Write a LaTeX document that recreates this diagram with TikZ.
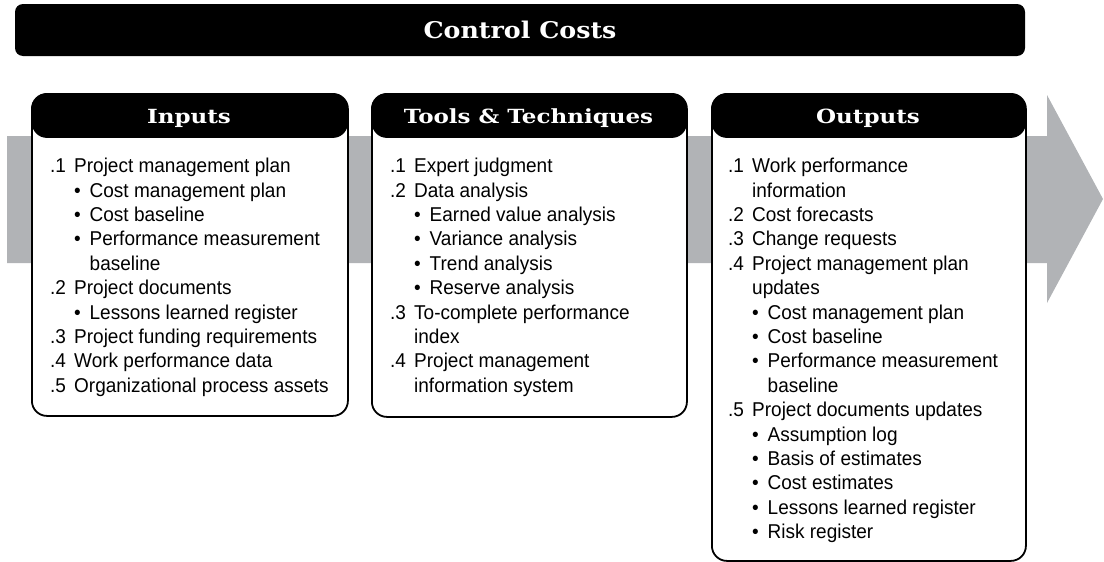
\documentclass[tikz,border=0pt]{standalone}
\usepackage{fontspec}
\setmainfont[FakeStretch=0.95]{Liberation Sans}
\newfontfamily\slabfont[FakeStretch=1.1]{DejaVu Serif}
\newfontfamily\slabwide[FakeStretch=1.18]{DejaVu Serif}
\definecolor{bandgray}{HTML}{B1B3B6}
\newcommand\nm[1]{\makebox[24pt][l]{#1}}
\newcommand\bl{\hspace*{24pt}\makebox[15.5pt][l]{\textbullet}}
\newcommand\ct{\hspace*{24pt}}
\newcommand\bct{\hspace*{39.5pt}}
\tikzset{
  panel/.style={draw=black, line width=1.8pt, fill=white, rounded corners=15pt,
    anchor=north west, inner sep=0pt,
    path picture={\fill[black] (path picture bounding box.north west) rectangle
      ([yshift=-44pt]path picture bounding box.north east);}},
  headtext/.style={text=white, font=\slabwide\bfseries\fontsize{19.5}{22}\selectfont,
    anchor=base, inner sep=0pt},
  titlebar/.style={fill=black, rounded corners=8pt, text=white, inner sep=0pt,
    font=\slabfont\bfseries\fontsize{23}{26}\selectfont},
  listtext/.style={anchor=north west, inner sep=0pt, align=left,
    font=\fontsize{20}{24.4}\selectfont}
}
\begin{document}
\begin{tikzpicture}[x=1pt,y=-1pt]
\useasboundingbox (0,0) rectangle (1104,562);
% big gray arrow
\fill[bandgray] (7,136) -- (1047,136) -- (1047,95) -- (1103,199) -- (1047,303)
  -- (1047,263) -- (7,263) -- cycle;
% title bar
\node[titlebar, minimum width=1010pt, minimum height=52pt] (title) at (520,30) {Control Costs};
% panels
\node[panel, minimum width=316pt, minimum height=322pt] (inbox) at (31,93) {};
\node[panel, minimum width=315pt, minimum height=323pt] (toolbox) at (371,93) {};
\node[panel, minimum width=314pt, minimum height=467pt] (outbox) at (711,93) {};
% headers
\node[headtext] (inhead) at (189,123) {Inputs};
\node[headtext] (toolhead) at (528.5,123) {Tools \& Techniques};
\node[headtext] (outhead) at (868,123) {Outputs};
% lists
\node[listtext] (inlist) at (50,155.4) {\strut\nm{.1}Project management plan\\
\bl Cost management plan\\
\bl Cost baseline\\
\bl Performance measurement\\
\bct baseline\\
\nm{.2}Project documents\\
\bl Lessons learned register\\
\nm{.3}Project funding requirements\\
\nm{.4}Work performance data\\
\nm{.5}Organizational process assets};
\node[listtext] (toollist) at (390,155.4) {\strut\nm{.1}Expert judgment\\
\nm{.2}Data analysis\\
\bl Earned value analysis\\
\bl Variance analysis\\
\bl Trend analysis\\
\bl Reserve analysis\\
\nm{.3}To-complete performance\\
\ct index\\
\nm{.4}Project management\\
\ct information system};
\node[listtext] (outlist) at (728,155.4) {\strut\nm{.1}Work performance\\
\ct information\\
\nm{.2}Cost forecasts\\
\nm{.3}Change requests\\
\nm{.4}Project management plan\\
\ct updates\\
\bl Cost management plan\\
\bl Cost baseline\\
\bl Performance measurement\\
\bct baseline\\
\nm{.5}Project documents updates\\
\bl Assumption log\\
\bl Basis of estimates\\
\bl Cost estimates\\
\bl Lessons learned register\\
\bl Risk register};
\end{tikzpicture}
\end{document}
